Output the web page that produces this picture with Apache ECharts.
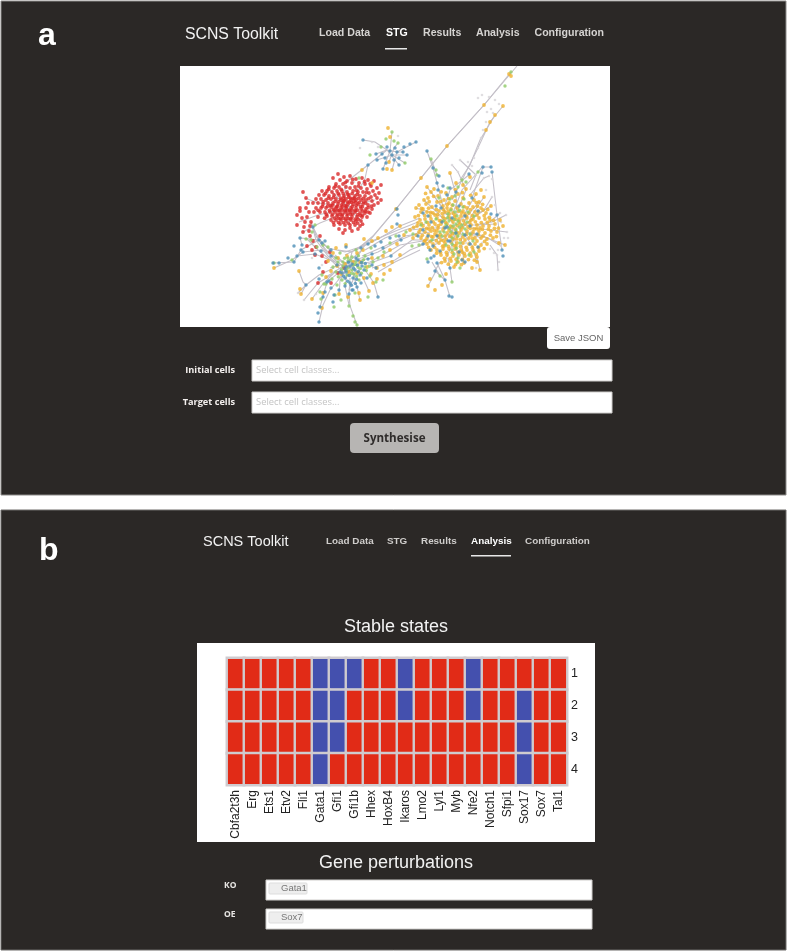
<!DOCTYPE html>
<html><head><meta charset="utf-8">
<style>html,body{margin:0;padding:0;background:#fff}#c{width:787px;height:952px}</style>
<script src="https://cdn.jsdelivr.net/npm/echarts@6/dist/echarts.min.js"></script>
</head><body><div id="c"></div>
<script>
// Panel b : stable-state heat map
const genes=["Cbfa2t3h","Erg","Ets1","Etv2","Fli1","Gata1","Gfi1","Gfi1b","Hhex","HoxB4","Ikaros","Lmo2","Lyl1","Myb","Nfe2","Notch1","Sfpi1","Sox17","Sox7","Tal1"];
const states=["1","2","3","4"];
const state1=[1,1,1,1,1,0,0,0,1,1,0,1,1,1,0,1,1,1,1,1];
const state2=[1,1,1,1,1,0,0,1,1,1,0,1,1,1,0,1,1,0,1,1];
const state3=[1,1,1,1,1,0,0,1,1,1,1,1,1,1,1,1,1,0,1,1];
const state4=[1,1,1,1,1,0,1,1,1,1,1,1,1,1,1,1,1,0,1,1];

// Panel a : state-transition graph, node positions
const redNodes=[[338,174],[344,177],[350,176],[333,178],[356,179],[362,178],[340,180],[347,181],[368,180],[374,181],[381,185],[336,184],[343,184],[352,183],[359,183],[365,184],[371,186],[377,188],[329,187],[334,188],[339,187],[346,187],[350,188],[355,187],[361,188],[367,189],[373,191],[379,193],[322,191],[327,191],[332,192],[337,191],[342,191],[347,192],[353,191],[358,192],[363,192],[369,193],[375,195],[303,192],[319,195],[324,195],[329,196],[334,195],[339,195],[344,196],[349,195],[355,196],[360,196],[365,196],[371,197],[377,198],[381,200],[306,198],[316,199],[321,199],[326,200],[331,199],[336,199],[341,200],[346,199],[351,200],[356,200],[361,200],[366,200],[372,201],[378,203],[308,203],[313,203],[318,203],[323,204],[328,203],[333,203],[338,204],[343,203],[348,204],[353,204],[358,204],[363,204],[368,205],[374,205],[300,208],[306,208],[316,208],[321,208],[326,208],[331,207],[336,208],[341,208],[346,208],[351,208],[356,208],[361,209],[366,209],[372,209],[300,211],[309,212],[314,212],[320,212],[325,212],[330,212],[335,212],[340,212],[345,212],[350,212],[355,212],[360,213],[365,213],[370,213],[297,215],[302,218],[307,217],[318,217],[327,216],[332,216],[337,216],[342,216],[347,216],[352,217],[357,217],[362,217],[367,217],[305,222],[311,222],[331,220],[336,220],[341,220],[346,221],[351,220],[356,221],[361,221],[297,225],[304,227],[310,226],[334,225],[340,224],[345,225],[350,225],[355,225],[360,226],[303,232],[309,231],[339,229],[345,230],[350,228],[358,229],[343,233],[352,231],[310,236],[313,241],[316,247],[307,246],[312,250],[315,255],[322,256],[330,252],[326,262],[338,273],[344,268],[323,272],[318,283],[331,283],[320,236]];
const redCore=[[325.5,193.5],[335.4,186.2],[345.3,182.6],[352.7,179.4],[358.4,186.1],[364.6,181.5],[370.2,183.8],[330.6,205.3],[335.2,201.4],[340.7,198.2],[345.4,205.7],[350.3,198.1],[355.6,202.2],[360.5,206.4],[365.7,203.1],[340.3,214.6],[345.2,210.4],[350.5,214.2],[355.3,210.7],[360.2,215.3],[365.4,211.2],[337.6,206.2],[342.4,206.3],[347.5,202.1],[352.3,206.4],[334.2,210.3],[344.1,200.6],[349.6,210.1],[339.3,210.2],[354.4,198.2],[329.5,210.4],[338.4,218.2],[348.3,218.6],[343.6,218.2],[358.2,219.3],[353.5,222.4],[322.4,206.3],[318.2,210.3],[326.3,214.4],[328.6,189.2],[341.2,189.3],[356.3,190.2],[366.4,192.4],[371.3,206.2],[368.2,212.1],[362.5,224.2],[333.4,222.3],[324.6,218.2],[343.2,193.7],[347.7,194.2],[352.2,193.6],[357.4,194.3],[338.2,193.4],[333.6,197.4],[328.3,198.2],[323.2,201.6],[343.5,198],[348.6,197.2],[353.1,198.4],[358.2,198.3],[363.2,198.4],[368.6,198.7],[338.7,201.7],[343.3,201.2],[349.3,201.8],[354,201.2],[359.1,202.4],[363.7,201.8],[332.7,205.1],[327.6,206.2],[336.4,206.9],[341.7,204.8],[346.6,206.2],[351.3,202.3],[356.2,205.3],[362.3,206.8],[368.1,207.7],[333.2,209.1],[337.7,210.3],[342.3,210],[347.4,210.2],[352.2,210],[357.4,210.2],[362.6,211],[332.6,214.2],[337.4,214.1],[342.6,214.2],[347.3,214],[352.6,214.1],[357.7,214.7],[362.7,215.1],[334.6,218.2],[340.2,218.6],[345.8,218.9],[350.7,218.7],[355.2,219.2],[338.5,222.4],[343.3,222.6],[348.2,223.1],[357.6,223.2]];

const orangeNodes=[[427,187],[431,192],[450,173],[456,183],[434,189],[446,193],[470,177],[463,185],[476,194],[481,190],[474,200],[466,189],[424,200],[419,205],[416,208],[428,198],[438,196],[444,200],[452,197],[458,194],[463,198],[469,203],[426,204],[432,207],[437,202],[443,206],[449,203],[455,201],[461,204],[467,208],[473,207],[479,202],[484,197],[421,212],[415,217],[427,212],[433,213],[439,211],[445,212],[451,209],[457,208],[463,211],[469,213],[475,212],[481,208],[486,213],[491,206],[420,220],[425,219],[431,219],[437,218],[443,217],[449,217],[455,215],[461,216],[467,218],[473,219],[479,218],[485,219],[490,220],[417,226],[423,226],[429,225],[435,224],[441,224],[447,224],[453,222],[459,222],[465,224],[471,225],[477,225],[483,226],[489,226],[495,224],[500,220],[503,226],[410,230],[419,232],[425,232],[431,231],[437,231],[443,230],[449,230],[455,229],[461,230],[467,231],[473,232],[479,231],[485,233],[491,231],[497,232],[404,235],[413,238],[421,238],[427,238],[433,237],[439,237],[445,236],[451,236],[457,236],[463,237],[469,238],[475,238],[481,238],[487,239],[493,238],[505,245],[427,244],[433,244],[439,243],[445,243],[451,242],[457,243],[463,243],[469,244],[475,244],[481,245],[487,244],[499,243],[431,250],[437,250],[443,249],[449,249],[455,249],[461,250],[467,250],[473,250],[479,251],[441,255],[447,255],[453,256],[459,255],[465,256],[471,256],[477,257],[445,261],[451,261],[458,262],[464,263],[477,262],[480,270],[454,267],[446,274],[430,279],[428,286],[435,290],[442,285],[472,268],[435,215],[441,221],[447,208],[453,213],[459,219],[465,214],[471,220],[477,215],[483,210],[429,229],[435,234],[441,240],[447,233],[453,239],[459,233],[465,240],[471,235],[477,241],[483,236],[423,209],[418,223],[430,216],[452,227],[445,219],[438,228],[444,246],[456,246],[462,252],[468,227],[474,229],[480,228],[372,183],[362,170],[387,169],[392,170],[389,162],[390,137],[388,128],[484,105],[503,106],[495,115],[490,122],[486,130],[447,146],[421,178],[396,209],[511,76],[509,74],[400,226],[392,227],[386,231],[378,238],[372,241],[364,239],[346,245],[336,248],[333,253],[328,261],[338,258],[347,256],[357,253],[363,250],[372,258],[383,256],[390,250],[397,244],[400,255],[392,262],[384,265],[377,268],[371,274],[384,274],[390,270],[367,267],[360,262],[353,262],[345,264],[337,266],[331,271],[326,277],[341,274],[349,272],[357,273],[364,278],[373,283],[377,279],[369,291],[359,293],[360,300],[339,294],[348,297],[323,293],[312,299],[301,294],[300,289],[299,271],[274,268],[322,308]];
const orangeCore=[[425.6,193.4],[433.7,196.3],[441.2,191.8],[448.6,198.7],[455.3,189.6],[462.4,192.7],[470.6,195.3],[477.4,206.2],[440.7,201.6],[436.3,209.4],[429.2,201.7],[421.6,208.3],[447.3,204.6],[452.4,205.2],[458.7,211.3],[464.2,206.7],[470.4,209.6],[476.3,202.6],[482.6,204.3],[487.7,209.4],[428.6,208.2],[424.7,215.4],[418.4,215.6],[430.6,212.4],[437.7,214.6],[443.3,209.7],[449.2,213.7],[455.6,219.3],[461.7,212.8],[466.3,216.2],[472.3,215.7],[478.6,211.6],[484.2,215.7],[489.4,217.3],[421.4,223.7],[427.3,222.3],[433.2,221.8],[439.4,220.6],[445.6,222.4],[451.3,219.4],[457.2,225.6],[463.4,220.7],[469.6,222.3],[475.4,221.8],[481.3,222.6],[487.3,222.4],[493.6,220.3],[498.4,228.2],[413.6,227.3],[420.4,229.7],[426.6,228.4],[432.3,227.7],[438.4,225.6],[444.3,227.3],[450.6,226.2],[456.3,232.2],[462.3,227.6],[470.3,228.3],[476.6,228.7],[482.4,229.4],[488.4,229.2],[494.4,228.4],[416.4,235.2],[422.3,235.3],[428.4,234.6],[434.3,230.4],[440.4,234.7],[446.3,239.4],[452.6,233.4],[460.3,239.6],[466.4,234.4],[472.6,238.4],[478.3,234.3],[484.6,241.4],[490.4,235.2],[496.4,236.6],[424.3,241.4],[430.2,241.6],[436.4,240.7],[442.6,246.2],[448.4,246.4],[454.2,245.7],[460.4,246.4],[466.2,247.3],[472.3,247.2],[478.4,247.6],[484.2,248.6],[428.6,247.4],[434.6,247.3],[440.4,252.3],[446.4,252.4],[452.3,252.3],[458.4,252.2],[464.2,253.4],[470.2,253.2],[476.3,254.1],[436.6,253.2],[444.4,258.3],[450.3,258.4],[456.2,259.2],[462.4,259.4],[468.4,259.6],[448.3,264.2],[441.6,262.6],[455.6,264.6],[474.4,260.2],[461.4,264.7],[442.2,213.6],[448.4,211.2],[454.6,216.7],[460.2,224.1],[456.6,238.9],[449.7,236.4],[443.6,240.8],[437.3,235.2],[431.5,236.6],[425.2,240.3]];

const blueNodes=[[363,140],[387,147],[397,152],[416,142],[410,144],[404,147],[376,154],[377,160],[383,169],[399,165],[403,152],[392,155],[390,151],[395,148],[382,154],[368,165],[385,158],[394,160],[399,158],[386,163],[407,155],[427,151],[433,168],[439,176],[437,183],[438,190],[443,186],[450,188],[447,195],[456,192],[469,174],[482,173],[483,167],[491,167],[492,172],[472,198],[478,211],[491,214],[497,215],[423,230],[418,236],[423,213],[428,216],[431,222],[436,206],[441,208],[442,222],[447,227],[452,218],[459,206],[465,216],[470,226],[477,234],[423,244],[428,236],[433,246],[437,236],[440,251],[445,228],[450,241],[456,233],[459,252],[465,235],[470,244],[478,247],[502,250],[503,256],[430,250],[431,258],[428,262],[434,256],[437,263],[448,241],[462,260],[465,262],[435,271],[450,268],[445,280],[449,296],[452,297],[398,215],[397,209],[401,240],[399,236],[390,238],[381,242],[375,246],[368,244],[361,248],[372,254],[383,248],[391,256],[346,247],[331,250],[325,241],[319,240],[313,227],[300,238],[294,246],[301,250],[303,252],[297,256],[294,262],[279,263],[273,263],[302,245],[288,258],[322,243],[321,251],[315,254],[358,260],[352,264],[345,269],[340,272],[350,266],[355,270],[345,278],[350,283],[337,265],[346,272],[360,275],[361,283],[353,278],[342,273],[362,266],[356,258],[368,259],[372,265],[364,270],[376,268],[378,297],[367,278],[339,290],[345,286],[352,290],[349,294],[331,288],[325,292],[327,282],[323,297],[320,307],[318,313],[319,322],[333,302],[334,295],[353,290],[357,287],[306,285],[319,279],[319,268],[329,281],[331,256],[397,224],[348.4,262.3],[353.6,268.2],[358.2,271.7],[349.3,275.4],[356.6,279.2],[347.7,281.3],[351.4,285.2],[355.3,283.6],[361.4,262.4],[357.4,265.3],[346.2,266.7],[343.6,276.2],[365.3,263.6]];

const greenNodes=[[392,132],[386,139],[394,141],[405,163],[398,143],[381,147],[359,178],[370,155],[437,175],[431,159],[436,170],[439,198],[450,199],[455,196],[458,187],[448,188],[478,172],[462,180],[466,182],[505,86],[511,72],[451,210],[453,205],[455,212],[457,216],[458,221],[453,226],[451,232],[456,230],[458,236],[460,243],[452,238],[448,214],[444,232],[462,225],[465,229],[449,221],[467,222],[456,224],[446,225],[442,236],[470,234],[473,241],[446,245],[452,250],[458,258],[454,254],[460,268],[457,262],[474,252],[469,255],[421,225],[426,222],[432,240],[436,219],[440,232],[468,212],[474,216],[463,207],[464,199],[427,259],[406,232],[413,234],[412,246],[419,245],[315,225],[312,232],[311,240],[306,239],[323,245],[317,247],[328,247],[336,258],[343,262],[348,261],[353,265],[358,267],[348,258],[338,262],[352,257],[343,266],[336,272],[333,267],[342,280],[347,275],[356,262],[362,262],[365,256],[371,248],[354,274],[359,280],[352,270],[348,268],[332,279],[322,275],[326,284],[370,276],[365,267],[373,262],[378,258],[384,252],[390,243],[396,236],[321,299],[320,292],[324,284],[335,295],[334,307],[341,300],[349,306],[353,316],[355,322],[357,325],[337,285],[355,293],[376,282],[383,280],[368,297],[274,263],[292,260],[340,253],[356,250],[452,282],[440,276],[344.6,258.3],[350.4,260.2],[355.3,264.4],[360.4,268.6],[346.3,270.6],[351.4,273.4],[356.6,276.4],[341.7,269.4],[338.3,276.7],[361.4,273.2],[366.3,270.4],[369.4,266.3],[345.2,283.6],[358.4,255.7],[363.6,259.6],[454.3,219.4],[459.4,227.2],[455.4,233.3],[449.4,228.2],[463.2,234.2],[452.2,244.2],[456.4,248.3],[447.6,217.6],[443.6,220.6],[459.6,210.3]];

const greyNodes=[[482,95],[478,98],[489,97],[495,100],[499,104],[491,109],[487,112],[493,113],[486,122],[483,130],[481,138],[478,148],[474,158],[468,162],[460,160],[452,165],[458,172],[472,166],[476,175],[484,178],[489,176],[492,179],[486,190],[492,197],[495,205],[500,213],[506,215],[501,222],[507,232],[504,238],[501,246],[498,250],[508,238],[497,255],[499,262],[498,270],[494,253],[490,249],[486,240],[476,268],[354,182],[346,186],[340,200],[358,195],[312,258],[322,265],[304,300],[298,293],[316,294],[360,148],[372,142],[378,147],[398,136],[470,203],[444,214],[463,218],[436,226],[475,236],[452,247],[488,218],[482,243],[437,243],[466,243]];

// Edges, each one a polyline
const graphEdges=[
[[517,66],[484,105],[447,146],[421,178],[396,209],[373,236],[360,247],[345,252],[328,248],[316,236],[311,222]],
[[511,72],[484,105],[447,146],[421,178],[396,209],[370,240],[352,252],[338,250]],
[[495,115],[486,130],[480,140],[470,165],[460,180]],
[[503,106],[490,122],[477,150],[464,176],[452,200]],
[[364,183],[368,165],[387,150]],[[345,183],[368,165]],[[363,140],[375,142],[387,150],[397,152],[416,142]],[[376,154],[387,150],[399,165]],[[377,160],[392,155],[405,163]],[[383,169],[390,151],[392,132]],[[389,162],[394,148],[398,143]],[[392,170],[397,152],[403,152]],[[407,155],[392,155]],
[[427,151],[433,168],[439,190],[445,215]],[[437,175],[431,159]],[[482,167],[478,172],[462,190],[452,215]],[[491,167],[483,167],[472,198]],[[470,174],[450,190],[445,205]],[[492,172],[497,215],[502,250]],
[[365,250],[385,238],[405,230],[425,224]],[[362,256],[385,246],[405,236],[430,232]],[[368,264],[390,256],[412,240],[435,240]],[[350,262],[378,252],[400,240],[420,232]],[[372,268],[395,260],[410,250],[425,244]],[[378,272],[395,262],[420,250]],[[345,255],[372,241],[398,230],[418,222]],[[356,250],[380,238],[400,226],[420,218]],[[340,268],[370,262],[400,245],[428,240]],
[[311,222],[316,240],[328,256],[340,266]],[[313,227],[322,245],[335,260],[348,270]],[[306,238],[318,250],[333,262],[345,274]],[[316,236],[325,250],[342,262]],
[[273,263],[294,262],[301,250],[319,240],[330,250]],[[274,268],[292,260],[303,252],[322,250],[336,258]],[[302,245],[300,238],[319,240]],[[297,256],[315,254],[335,262]],
[[319,322],[323,305],[330,290],[345,272]],[[320,307],[327,282],[342,270]],[[357,325],[350,306],[349,294],[350,278]],[[349,305],[345,286],[348,270]],[[378,297],[374,283],[365,270]],[[369,291],[363,278],[358,268]],[[360,300],[357,287],[353,274]],[[339,294],[340,281],[346,268]],
[[298,293],[306,285],[319,275],[334,268]],[[304,300],[318,283],[333,274]],[[301,294],[306,285]],[[299,271],[303,282],[306,285]],[[312,299],[322,285],[335,272]],
[[450,297],[445,280],[435,271],[440,262]],[[428,286],[436,271]],[[440,276],[432,262]],[[445,280],[437,263]],[[452,282],[450,268],[448,258]],[[480,270],[477,257]],[[498,270],[497,255],[490,245]],
[[427,187],[437,200],[447,215]],[[416,208],[432,213],[450,220]],[[410,230],[430,228],[450,228]],[[420,245],[440,238],[455,232]],[[445,261],[452,245],[457,228]],[[464,263],[462,245],[460,225]],[[450,173],[456,195],[457,215]],[[476,194],[468,208],[458,225]],[[491,206],[475,216],[462,228]],[[505,245],[482,236],[465,232]],[[495,224],[478,225],[462,225]],[[477,262],[472,245],[462,232]],[[431,192],[444,210],[455,226]],[[424,200],[440,215],[452,232]],[[433,246],[445,238],[455,226]],[[479,202],[468,215],[460,230]],[[484,197],[470,218]],[[481,238],[466,232]],[[458,262],[456,245],[452,228]],
[[507,232],[490,230],[472,228]],[[506,215],[492,222],[475,225]],[[501,246],[488,238],[470,232]],[[452,165],[458,172],[466,190],[458,210]],[[460,160],[476,175],[470,190]],[[489,176],[484,178],[470,195]],[[492,197],[484,210],[470,220]],[[500,213],[490,222]],
[[305,198],[318,203],[335,205]],[[299,222],[318,215],[340,210]],[[303,232],[320,223],[340,215]],[[345,185],[345,205],[350,225]],[[364,181],[352,200],[340,220]],[[375,200],[355,205],[330,212]],[[328,188],[345,205],[362,222]],
[[345,262],[355,275],[349,290]],[[335,255],[350,268],[365,260]],[[352,252],[348,268],[338,280]],[[330,268],[350,262],[372,258]],[[365,245],[352,265],[345,280]],[[326,277],[345,265],[362,250]]
];

const series=[
 {type:'lines',coordinateSystem:'cartesian2d',xAxisIndex:0,yAxisIndex:0,polyline:true,silent:true,z:2,
  lineStyle:{color:'#c2bec6',width:1.1,opacity:.95},data:graphEdges.map(c=>({coords:c}))},
];
const nodeSets=[[greyNodes,'#d8d6da',2.6],[redNodes,'#d92a2b',3.8],[redCore,'#d92a2b',3.8],[orangeNodes,'#efb12f',3.8],[orangeCore,'#efb12f',3.8],[greenNodes,'#8fca66',3.4],[blueNodes,'#4c8fb6',3.5]];
nodeSets.forEach(([d,c,s])=>series.push({type:'scatter',xAxisIndex:0,yAxisIndex:0,data:d,symbolSize:s,silent:true,z:3,itemStyle:{color:c}}));
const heat=[];
[state1,state2,state3,state4].forEach((r,y)=>r.forEach((v,x)=>heat.push([x,y,v])));
series.push({type:'heatmap',xAxisIndex:1,yAxisIndex:1,data:heat,silent:true,z:3,itemStyle:{borderColor:'#cfcbcf',borderWidth:2.4}});

const bg='#2b2826', sans='"Liberation Sans",Arial,sans-serif', open='"Open Sans",sans-serif';
const rect=(x,y,w,h,fill,stroke,r)=>({type:'rect',shape:{x,y,width:w,height:h,r:r||0},style:{fill,stroke:stroke||null,lineWidth:stroke?1:0},silent:true});
const txt=(x,y,s,size,fill,o)=>({type:'text',x,y,silent:true,style:Object.assign({text:s,fontSize:size,fill,fontFamily:sans,verticalAlign:'middle'},o||{})});
const bold={fontWeight:'bold'};
const g=[
 rect(1,1,785,494,bg,'#8d8b89'), rect(1,510,785,440,bg,'#6d6b69'),
 rect(180,66,430,261,'#ffffff'), rect(197,643,398,199,'#ffffff'),
 rect(547,327,63,22,'#ffffff',null,3),
 txt(38,36,'a',32,'#fff',bold), txt(39,551,'b',32,'#fff',bold),
 txt(185,35,'SCNS Toolkit',15.8,'#f2f2f2'),
 txt(319,33.5,'Load Data',10.6,'#d6d4d2',bold), txt(386,33.5,'STG',10.6,'#ffffff',bold), txt(423,33.5,'Results',10.6,'#d6d4d2',bold), txt(476,33.5,'Analysis',10.6,'#d6d4d2',bold), txt(534.5,33.5,'Configuration',10.6,'#d6d4d2',bold),
 rect(385,48,22,1.5,'#e8e8e8'),
 txt(578.5,338,'Save JSON',9.5,'#666',{align:'center'}),
 txt(235,370.5,'Initial cells',9.2,'#f4f0ee',{align:'right',fontWeight:'bold',fontFamily:open}),
 txt(235,402.5,'Target cells',9.2,'#f4f0ee',{align:'right',fontWeight:'bold',fontFamily:open}),
 rect(252,360,360,21,'#fff','#cfcdcb'), rect(252,392,360,21,'#fff','#cfcdcb'),
 txt(256,370.5,'Select cell classes...',9.4,'#c4c4c4',{fontFamily:open}), txt(256,402.5,'Select cell classes...',9.4,'#c4c4c4',{fontFamily:open}),
 rect(350,423,89,30,'#b7b5b3',null,4),
 txt(394.5,438.5,'Synthesise',11.6,'#2f2c2b',{align:'center',fontWeight:'bold',fontFamily:open}),
 txt(203,542,'SCNS Toolkit',14.5,'#f2f2f2'),
 txt(326,541,'Load Data',9.9,'#cfcdcb',bold), txt(387,541,'STG',9.9,'#cfcdcb',bold), txt(421,541,'Results',9.9,'#cfcdcb',bold), txt(471,541,'Analysis',9.9,'#ffffff',bold), txt(525,541,'Configuration',9.9,'#cfcdcb',bold),
 rect(471,555,40,1.5,'#e8e8e8'),
 txt(396,627,'Stable states',18,'#f2f2f2',{align:'center'}),
 txt(396,863,'Gene perturbations',18,'#f2f2f2',{align:'center'}),
 txt(224,886,'KO',8.5,'#e8e6e4',{fontWeight:'bold',fontFamily:open}), txt(224,915,'OE',8.5,'#e8e6e4',{fontWeight:'bold',fontFamily:open}),
 rect(266,880,326,20,'#fff','#cfcdcb'), rect(266,909,326,20,'#fff','#cfcdcb'),
 rect(269,883,38,11,'#eeeeee','#dddddd',1), rect(269,912,34,11,'#eeeeee','#dddddd',1),
 txt(281,888.5,'Gata1',9.5,'#777'), txt(281,917.5,'Sox7',9.5,'#777'),
];
g.forEach(e=>{e.z=e.type==='text'?50:0;});

const chart=echarts.init(document.getElementById('c'),null,{width:787,height:952});
chart.setOption({
 animation:false,backgroundColor:'#ffffff',
 grid:[{left:180,top:66,width:430,height:261},{left:227,top:658,width:340,height:127}],
 xAxis:[
  {gridIndex:0,type:'value',min:180,max:610,show:false},
  {gridIndex:1,type:'category',data:genes,position:'bottom',axisLine:{show:false},axisTick:{show:false},splitLine:{show:false},
   axisLabel:{rotate:90,interval:0,fontSize:12,color:'#222',fontFamily:sans,margin:5}}
 ],
 yAxis:[
  {gridIndex:0,type:'value',min:66,max:327,inverse:true,show:false},
  {gridIndex:1,type:'category',data:states,inverse:true,position:'right',axisLine:{show:false},axisTick:{show:false},splitLine:{show:false},
   axisLabel:{fontSize:12.5,color:'#222',fontFamily:sans,margin:4}}
 ],
 visualMap:{show:false,seriesIndex:series.length-1,type:'piecewise',dimension:2,pieces:[{value:0,color:'#4450ae'},{value:1,color:'#e12b17'}]},
 graphic:{elements:g},
 series
});
</script></body></html>
